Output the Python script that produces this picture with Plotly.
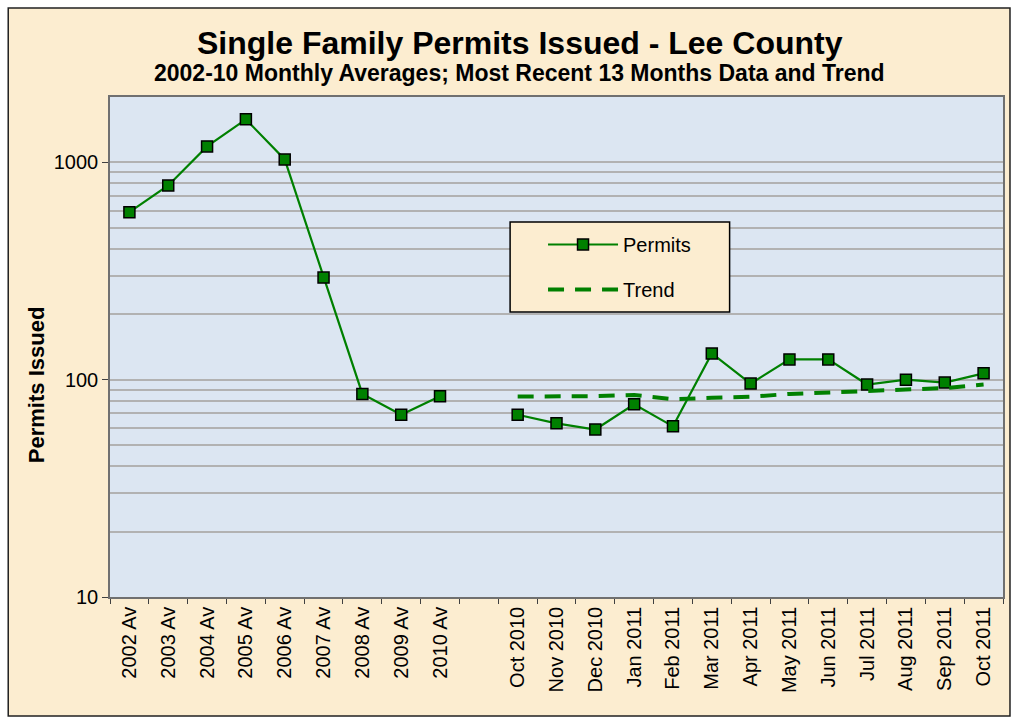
import plotly.graph_objects as go

categories = ["2002 Av", "2003 Av", "2004 Av", "2005 Av", "2006 Av", "2007 Av",
              "2008 Av", "2009 Av", "2010 Av", " ",
              "Oct 2010", "Nov 2010", "Dec 2010", "Jan 2011", "Feb 2011", "Mar 2011",
              "Apr 2011", "May 2011", "Jun 2011", "Jul 2011", "Aug 2011", "Sep 2011", "Oct 2011"]

permits = [590, 783, 1185, 1578, 1032, 295, 86, 69, 84, None,
           69, 63, 59, 77, 61, 132, 96, 124, 124, 95, 100, 97, 107]

trend = [None] * 10 + [83.6, 83.6, 84, 85, 81.4, 82.5, 83.5, 86, 87.4, 88.4, 90, 91.5, 95]

green = "#008000"
fig = go.Figure()
fig.add_trace(go.Scatter(
    x=categories, y=permits, name="Permits", mode="lines+markers",
    line=dict(color=green, width=2.2),
    marker=dict(symbol="square", size=11, color=green, line=dict(color="black", width=1.5)),
    legendgroup="a", connectgaps=False))
fig.add_trace(go.Scatter(
    x=categories, y=trend, name="Trend", mode="lines",
    line=dict(color=green, width=4, dash="16px,11px"),
    legendgroup="b"))

# helpers: pixel -> paper coords
def px_x(p):
    return (p - 110) / 895

def px_y(p):
    return (597 - p) / 500

# chart area frame (beige with dark border) and plot area fill
fig.add_shape(type="rect", xref="paper", yref="paper",
              x0=px_x(8), x1=px_x(1012), y0=px_y(716), y1=px_y(8),
              fillcolor="#FCEDD0", line=dict(color="#202020", width=1.5), layer="below")
fig.add_shape(type="rect", xref="paper", yref="paper",
              x0=0, x1=1, y0=0, y1=1,
              fillcolor="#DCE6F2", line=dict(width=0), layer="below")
# legend box
fig.add_shape(type="rect", xref="paper", yref="paper",
              x0=px_x(511), x1=px_x(731), y0=px_y(312), y1=px_y(222),
              fillcolor="#FCEDD0", line=dict(color="black", width=1.5), layer="above")

fig.add_annotation(text="<b>Single Family Permits Issued - Lee County</b>",
                   xref="paper", yref="paper", x=px_x(521), y=px_y(43),
                   xanchor="center", yanchor="middle",
                   showarrow=False, font=dict(family="Arial", size=32, color="black"))
fig.add_annotation(text="<b>2002-10 Monthly Averages; Most Recent 13 Months Data and Trend</b>",
                   xref="paper", yref="paper", x=px_x(520), y=px_y(73),
                   xanchor="center", yanchor="middle",
                   showarrow=False, font=dict(family="Arial", size=23, color="black"))
fig.add_annotation(text="<b>Permits Issued</b>", textangle=-90,
                   xref="paper", yref="paper", x=px_x(36), y=px_y(385),
                   xanchor="center", yanchor="middle",
                   showarrow=False, font=dict(family="Arial", size=22, color="black"))

fig.update_layout(
    width=1017, height=717,
    margin=dict(l=110, r=12, t=97, b=120),
    paper_bgcolor="white",
    plot_bgcolor="rgba(0,0,0,0)",
    font=dict(family="Arial", color="black"),
    showlegend=True,
    legend=dict(x=px_x(544), y=px_y(225), xanchor="left", yanchor="top",
                bgcolor="rgba(0,0,0,0)", borderwidth=0,
                font=dict(family="Arial", size=20, color="black"),
                tracegroupgap=16, itemwidth=70),
)
fig.update_xaxes(
    type="category", categoryorder="array", categoryarray=categories,
    tickangle=-90, tickfont=dict(family="Arial", size=20, color="black"),
    tickson="boundaries", ticks="outside", ticklen=5, tickcolor="#404040",
    showline=True, linecolor="#707070", linewidth=1.5, mirror=True,
    showgrid=False, range=[-0.5, len(categories) - 0.5])
fig.update_yaxes(
    type="log", range=[1, 3.301],
    tickvals=[10, 100, 1000], ticktext=["10", "100", "1000"],
    tickfont=dict(family="Arial", size=20, color="black"),
    ticks="outside", ticklen=6, tickcolor="#404040",
    showline=True, linecolor="#707070", linewidth=1.5, mirror=True,
    showgrid=True, gridcolor="#B2B2B2", gridwidth=1.5,
    minor=dict(tickvals=[20, 30, 40, 50, 60, 70, 80, 90,
                         200, 300, 400, 500, 600, 700, 800, 900, 2000],
               showgrid=True, gridcolor="#B2B2B2", gridwidth=1.5, ticks=""),
    zeroline=False)

fig.write_html("out.html", config={"displayModeBar": False},
               post_script="document.body.style.margin='0';")
